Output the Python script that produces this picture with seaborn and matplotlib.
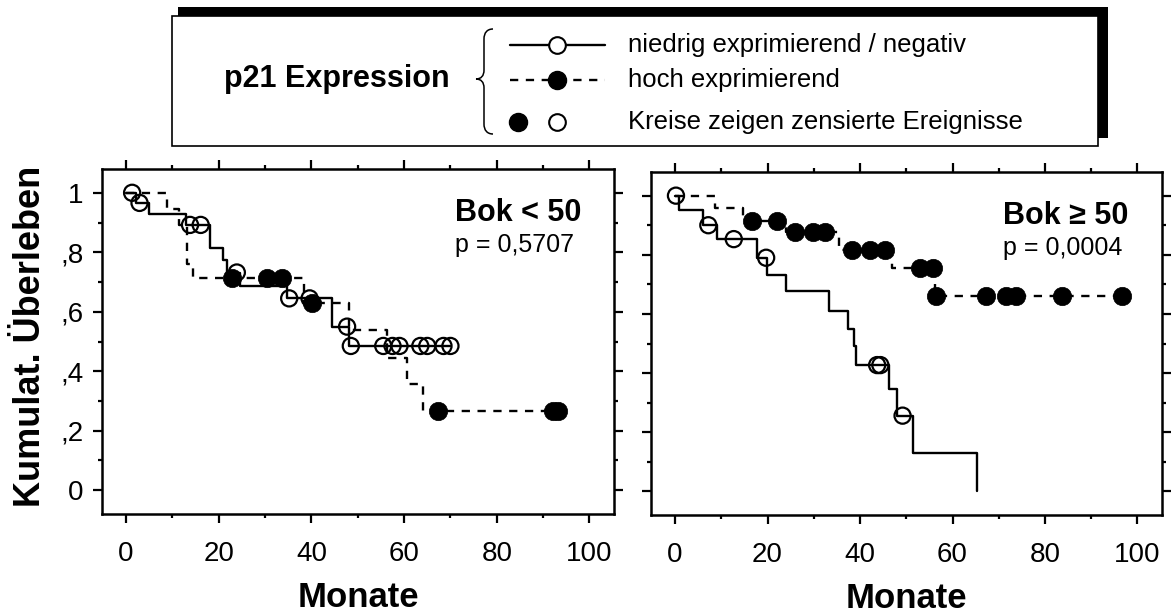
import matplotlib
matplotlib.use("Agg")
import matplotlib.pyplot as plt
from matplotlib.patches import Rectangle, PathPatch
from matplotlib.path import Path
import seaborn as sns
import pandas as pd

# ---------------- data ----------------
x_ticks = [0, 20, 40, 60, 80, 100]
x_minor = [10, 30, 50, 70, 90]
y_ticks = [0, 0.2, 0.4, 0.6, 0.8, 1.0]
y_tick_labels = ["0", ",2", ",4", ",6", ",8", "1"]
y_minor = [0.1, 0.3, 0.5, 0.7, 0.9]

# Panel 1: Bok < 50
p1_low_times = [2.2, 5.0, 13.0, 18.1, 20.9, 21.7, 24.5, 34.8, 44.4, 48.0]
p1_low_surv = [0.966, 0.929, 0.892, 0.815, 0.774, 0.732, 0.687, 0.645, 0.55, 0.485]
p1_low_end = 70.0
p1_low_cens_t = [1.3, 2.9, 13.8, 16.1, 23.9, 35.2, 39.6, 47.7, 48.5, 55.5, 57.5, 59.0, 63.5, 65.0, 68.5, 70.0]
p1_low_cens_s = [1.0, 0.966, 0.892, 0.892, 0.732, 0.645, 0.645, 0.55, 0.485, 0.485, 0.485, 0.485, 0.485, 0.485, 0.485, 0.485]
p1_high_times = [8.8, 11.4, 13.2, 14.5, 38.4, 48.0, 56.3, 60.7, 64.0]
p1_high_surv = [0.945, 0.892, 0.76, 0.714, 0.628, 0.54, 0.445, 0.357, 0.266]
p1_high_end = 93.3
p1_high_cens_t = [22.8, 30.4, 33.6, 40.1, 67.4, 92.2, 93.3]
p1_high_cens_s = [0.714, 0.714, 0.714, 0.628, 0.266, 0.266, 0.266]

# Panel 2: Bok >= 50
p2_low_times = [0.9, 6.1, 9.1, 17.8, 19.9, 24.0, 33.2, 37.3, 38.6, 39.2, 46.3, 48.0, 51.5, 65.3]
p2_low_surv = [0.95, 0.9, 0.853, 0.79, 0.732, 0.678, 0.611, 0.548, 0.49, 0.427, 0.345, 0.256, 0.128, 0.0]
p2_low_end = 65.3
p2_low_cens_t = [0.2, 7.2, 12.7, 19.7, 43.7, 44.4, 49.2]
p2_low_cens_s = [1.0, 0.9, 0.853, 0.79, 0.427, 0.427, 0.256]
p2_high_times = [8.6, 14.7, 24.0, 35.5, 47.0, 56.2]
p2_high_surv = [0.958, 0.913, 0.876, 0.815, 0.757, 0.659]
p2_high_end = 96.6
p2_high_cens_t = [16.6, 22.0, 25.9, 29.9, 32.4, 38.2, 42.1, 45.4, 52.9, 55.8, 56.4, 67.2, 71.6, 73.8, 83.7, 96.6]
p2_high_cens_s = [0.913, 0.913, 0.876, 0.876, 0.876, 0.815, 0.815, 0.815, 0.757, 0.757, 0.659, 0.659, 0.659, 0.659, 0.659, 0.659]

panel_titles = ["Bok < 50", "Bok \u2265 50"]
panel_pvals = ["p = 0,5707", "p = 0,0004"]
legend_title = "p21 Expression"
legend_labels = ["niedrig exprimierend / negativ", "hoch exprimierend",
                 "Kreise zeigen zensierte Ereignisse"]
x_label = "Monate"
y_label = "Kumulat. \u00dcberleben"

# ---------------- style ----------------
sns.set_theme(style="ticks")
plt.rcParams['font.family'] = ['Liberation Sans', 'DejaVu Sans']
plt.rcParams['axes.edgecolor'] = 'black'
plt.rcParams['axes.labelcolor'] = 'black'
plt.rcParams['text.color'] = 'black'
plt.rcParams['xtick.color'] = 'black'
plt.rcParams['ytick.color'] = 'black'
plt.rcParams['xtick.labelcolor'] = 'black'
plt.rcParams['ytick.labelcolor'] = 'black'

W, H = 1176, 615
fig = plt.figure(figsize=(W / 100, H / 100), dpi=100)
fig.patch.set_facecolor("white")


def fx(px):
    return px / W


def fy(py):
    return 1 - py / H


# legend drawing layer in pixel coordinates
lg = fig.add_axes([0, 0, 1, 1])
lg.set_xlim(0, W)
lg.set_ylim(H, 0)
lg.axis("off")
lg.patch.set_visible(False)

lg.add_patch(Rectangle((178, 7), 930, 131, facecolor="black", edgecolor="black", lw=0))
lg.add_patch(Rectangle((172, 16), 926, 130, facecolor="white", edgecolor="black", lw=1.2))
lg.text(337, 79, legend_title, fontsize=22, fontweight="bold", ha="center", va="center")
verts = [(493, 29), (487, 29), (484, 33), (484, 39), (484, 70),
         (484, 76), (481, 79), (476, 79), (481, 79), (484, 82), (484, 88),
         (484, 124), (484, 130), (487, 134), (493, 134)]
codes = [Path.MOVETO, Path.CURVE4, Path.CURVE4, Path.CURVE4, Path.LINETO,
         Path.CURVE4, Path.CURVE4, Path.CURVE4, Path.CURVE4, Path.CURVE4, Path.CURVE4,
         Path.LINETO, Path.CURVE4, Path.CURVE4, Path.CURVE4]
lg.add_patch(PathPatch(Path(verts, codes), facecolor="none", edgecolor="black", lw=1.1))
row_y = [45, 80, 122]
lg.plot([510, 605], [row_y[0]] * 2, color="black", lw=1.7)
lg.plot([557], [row_y[0]], marker="o", ms=12, mfc="white", mec="black", mew=1.5)
lg.plot([510, 605], [row_y[1]] * 2, color="black", lw=1.7, ls=(0, (3.5, 3.2)))
lg.plot([557], [row_y[1]], marker="o", ms=13, mfc="black", mec="black")
lg.plot([518], [row_y[2]], marker="o", ms=13, mfc="black", mec="black")
lg.plot([557], [row_y[2]], marker="o", ms=12, mfc="white", mec="black", mew=1.5)
for yy, lab in zip(row_y, legend_labels):
    lg.text(628, yy, lab, fontsize=18.5, ha="left", va="center")

ax1 = fig.add_axes([fx(102), fy(514), fx(614) - fx(102), fy(169) - fy(514)])
ax2 = fig.add_axes([fx(651), fy(515), fx(1162) - fx(651), fy(172) - fy(515)])


def km_frame(times, surv, end):
    x = [0.0] + list(times) + [end]
    y = [1.0] + list(surv) + [surv[-1]]
    return pd.DataFrame({"t": x, "s": y})


panels = [
    (ax1, (p1_low_times, p1_low_surv, p1_low_end, p1_low_cens_t, p1_low_cens_s),
     (p1_high_times, p1_high_surv, p1_high_end, p1_high_cens_t, p1_high_cens_s)),
    (ax2, (p2_low_times, p2_low_surv, p2_low_end, p2_low_cens_t, p2_low_cens_s),
     (p2_high_times, p2_high_surv, p2_high_end, p2_high_cens_t, p2_high_cens_s)),
]

for i, (ax, low, high) in enumerate(panels):
    dlow = km_frame(low[0], low[1], low[2])
    dhigh = km_frame(high[0], high[1], high[2])
    sns.lineplot(data=dhigh, x="t", y="s", ax=ax, drawstyle="steps-post", color="black",
                 linewidth=1.7, linestyle=(0, (3.5, 3.2)), estimator=None, sort=False)
    sns.lineplot(data=dlow, x="t", y="s", ax=ax, drawstyle="steps-post", color="black",
                 linewidth=1.7, linestyle="-", estimator=None, sort=False)
    sns.scatterplot(x=high[3], y=high[4], ax=ax, marker="o", s=175, facecolor="black",
                    edgecolor="black", linewidth=0.5, zorder=4)
    sns.scatterplot(x=low[3], y=low[4], ax=ax, marker="o", s=135, facecolor="none",
                    edgecolor="black", linewidth=1.6, zorder=5)

    ax.set_xlim(-5.2, 105.3)
    ax.set_ylim(-0.08, 1.08)
    ax.set_xticks(x_ticks)
    ax.set_xticks(x_minor, minor=True)
    ax.set_yticks(y_ticks)
    ax.set_yticks(y_minor, minor=True)
    ax.set_xticklabels([str(v) for v in x_ticks])
    ax.set_yticklabels(y_tick_labels)
    ax.tick_params(which="both", direction="out", bottom=True, left=True, top=True,
                   right=True, width=1.6, color="black", labelcolor="black")
    ax.tick_params(which="major", length=6.5)
    ax.tick_params(which="minor", length=3)
    ax.tick_params(axis="x", labelsize=20, pad=13)
    ax.tick_params(axis="y", labelsize=20, pad=7)
    for sp in ax.spines.values():
        sp.set_visible(True)
        sp.set_color("black")
        sp.set_linewidth(1.8)
    ax.set_xlabel(x_label, fontsize=25, fontweight="bold", color="black")
    ax.xaxis.set_label_coords(0.5, -0.195)
    ax.set_ylabel("")
    ax.text(71.0, 0.905, panel_titles[i], fontsize=22, fontweight="bold", ha="left",
            va="baseline", color="black")
    ax.text(71.0, 0.80, panel_pvals[i], fontsize=18, ha="left", va="baseline", color="black")

ax2.tick_params(axis="y", labelleft=False)
ax1.set_ylabel(y_label, fontsize=26, fontweight="bold", color="black")
ax1.yaxis.set_label_coords(-0.105, 0.515)

fig.savefig("out.png", dpi=100, facecolor="white")
